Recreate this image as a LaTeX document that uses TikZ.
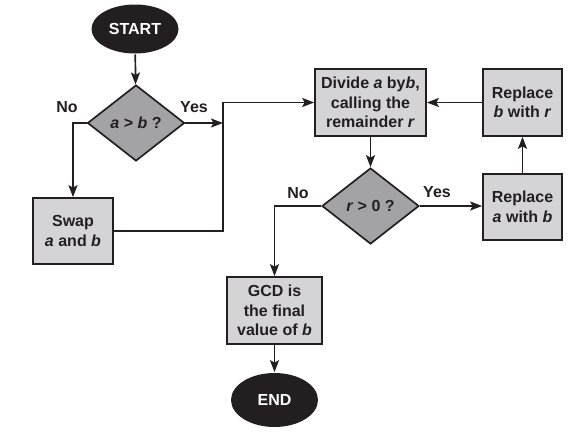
\documentclass[tikz,border=0pt]{standalone}
\usepackage{fontspec}
\setmainfont{Liberation Sans}
\usetikzlibrary{shapes.geometric}
\usetikzlibrary{arrows.meta}
\usetikzlibrary{calc}

\definecolor{boxgray}{RGB}{212,212,214}
\definecolor{diagray}{RGB}{163,163,166}
\definecolor{inkk}{RGB}{35,31,32}

\begin{document}
\begin{tikzpicture}[x=1pt, y=-1pt, color=inkk, line width=1.7pt,
    every node/.style={font=\fontsize{16}{19.5}\selectfont\bfseries, align=center, inner sep=0pt},
    terminal/.style={ellipse, fill=inkk, text=white, minimum width=87pt, minimum height=49pt},
    stepbox/.style={rectangle, draw, fill=boxgray},
    test/.style={diamond, draw, fill=diagray, minimum width=97pt, minimum height=76pt},
    flow/.style={-{Stealth[length=12pt, width=9pt, inset=2.5pt]}}]
        \useasboundingbox (0,0) rectangle (571,437);

        \node[terminal] (start) at (135,29) {START};

        \node[test] (q1) at (136,123) {\textit{a} > \textit{b} ?};

        \node[stepbox, minimum width=80pt, minimum height=66pt] (swap) at (73,231) {Swap\\\textit{a} and \textit{b}};

        \node[stepbox, minimum width=111pt, minimum height=67pt] (divide) at (370.5,102.5) {Divide \textit{a} by\textit{b},\\calling the\\remainder \textit{r}};

        \node[stepbox, minimum width=79pt, minimum height=67pt] (repb) at (522.5,102.5) {Replace\\\textit{b} with \textit{r}};

        \node[test] (q2) at (370.5,206) {\textit{r} > 0 ?};

        \node[stepbox, minimum width=79pt, minimum height=66pt] (repa) at (522.5,207) {Replace\\\textit{a} with \textit{b}};

        \node[stepbox, minimum width=95pt, minimum height=67pt] (gcd) at (274.5,310.5) {GCD is\\the final\\value of \textit{b}};

        \node[terminal, minimum height=54pt] (end) at (274.5,400) {END};

        \coordinate (join) at (223,102.5);

        \node (no1) at (67,107) {No};
        \node (yes1) at (194,107) {Yes};
        \node (no2) at (298,193) {No};
        \node (yes2) at (437,192) {Yes};

        \draw[flow] (start) -- (q1);
        \draw[flow] (q1.west) -| (swap.north);
        \draw[flow] (q1.east) -- (q1.east -| join);
        \draw[flow] (swap.east) -| (join) -- (divide.west);
        \draw[flow] (divide) -- (q2);
        \draw[flow] (q2.east) -- (q2.east -| repa.west);
        \draw[flow] (repa) -- (repb);
        \draw[flow] (repb) -- (divide);
        \draw[flow] (q2.west) -| (gcd.north);
        \draw[flow] (gcd) -- (end);
      \end{tikzpicture}
\end{document}
